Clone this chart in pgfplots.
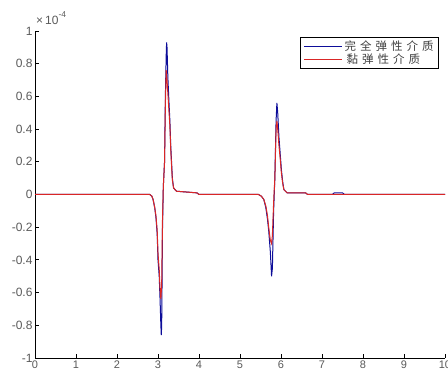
\documentclass[border=0pt]{standalone}
\usepackage{fontspec}
\setmainfont{Liberation Sans}
\newfontfamily\cjk{Noto Sans CJK SC}
\usepackage{pgfplots}
\pgfplotsset{compat=1.18}
\definecolor{mblue}{rgb}{0.05,0.05,0.6}
\definecolor{mred}{rgb}{0.85,0.15,0.15}
\newcommand{\cs}{\hspace{4pt}}
\begin{document}
\begin{tikzpicture}[x=1pt,y=1pt]
\useasboundingbox (0,0) rectangle (448,372);
\begin{axis}[
  at={(35pt,14pt)}, anchor=south west,
  scale only axis, width=410pt, height=327pt,
  xmin=0, xmax=10, ymin=-1, ymax=1,
  axis x line*=bottom, axis y line*=left,
  axis line style={-, black, line width=0.9pt},
  tick align=inside, major tick length=4pt,
  tick style={black, line width=0.8pt},
  xtick={0,1,2,3,4,5,6,7,8,9,10},
  ytick={-1,-0.8,-0.6,-0.4,-0.2,0,0.2,0.4,0.6,0.8,1},
  yticklabels={-1,-0.8,-0.6,-0.4,-0.2,0,0.2,0.4,0.6,0.8,1},
  xticklabels={0,1,2,3,4,5,6,7,8,9,10},
  tick label style={font=\fontsize{12}{13}\selectfont, text=black!65},
  xticklabel style={font=\fontsize{11}{11}\selectfont, inner ysep=1pt, yshift=-1.5pt},
  yticklabel style={xshift=1pt},
  /pgf/number format/assume math mode=true,
  legend style={at={(0.985,0.982)}, anchor=north east, draw=black, line width=0.6pt,
    font=\cjk\fontsize{11.5}{13}\selectfont, inner xsep=3pt, inner ysep=2pt, row sep=-3pt, text=black!75},
  legend cell align=left,
  legend image code/.code={\draw[#1, line width=0.9pt] (0pt,0pt) -- (38pt,0pt);},
  clip=false,
]
\addplot[mblue, line width=1pt] coordinates {
(0,0) (2.80,0) (2.85,-0.01) (2.88,-0.03) (2.92,-0.08) (2.95,-0.14) (2.98,-0.24)
(3.00,-0.40) (3.03,-0.50) (3.05,-0.64) (3.07,-0.80) (3.08,-0.86) (3.09,-0.80)
(3.11,-0.2) (3.13,0.05) (3.16,0.20) (3.18,0.60) (3.20,0.85) (3.21,0.93) (3.22,0.90)
(3.24,0.72) (3.27,0.55) (3.29,0.45) (3.31,0.30) (3.33,0.20) (3.35,0.10) (3.38,0.04)
(3.45,0.02) (3.95,0.01) (4.0,0) (5.45,0) (5.52,-0.01) (5.58,-0.03) (5.63,-0.08)
(5.67,-0.15) (5.70,-0.22) (5.74,-0.35) (5.77,-0.50) (5.79,-0.45) (5.82,-0.1)
(5.85,0.10) (5.88,0.45) (5.90,0.56) (5.92,0.50) (5.95,0.35) (5.98,0.25) (6.01,0.15)
(6.04,0.08) (6.07,0.03) (6.15,0.01) (6.6,0.01) (6.65,0) (7.25,0) (7.3,0.01) (7.5,0.01)
(7.55,0) (10,0)
};
\addlegendentry{完\cs 全\cs 弹\cs 性\cs 介\cs 质}
\addplot[mred, line width=1pt] coordinates {
(0,0) (2.80,0) (2.85,-0.01) (2.88,-0.03) (2.92,-0.08) (2.95,-0.13) (2.98,-0.22)
(3.00,-0.36) (3.03,-0.46) (3.05,-0.58) (3.07,-0.64) (3.09,-0.55) (3.11,-0.15)
(3.13,0.05) (3.16,0.2) (3.18,0.55) (3.20,0.76) (3.22,0.70) (3.24,0.62) (3.27,0.50)
(3.29,0.42) (3.31,0.28) (3.33,0.18) (3.35,0.09) (3.38,0.04) (3.45,0.02) (3.95,0.01)
(4.0,0) (5.45,0) (5.52,-0.01) (5.58,-0.03) (5.63,-0.07) (5.67,-0.13) (5.70,-0.2)
(5.74,-0.28) (5.77,-0.30) (5.79,-0.25) (5.82,-0.05) (5.85,0.10) (5.88,0.40)
(5.90,0.45) (5.92,0.40) (5.95,0.30) (5.98,0.22) (6.01,0.13) (6.04,0.07) (6.07,0.03)
(6.15,0.01) (6.6,0.01) (6.65,0) (10,0)
};
\addlegendentry{\hspace{2pt}黏\cs 弹\cs 性\cs 介\cs 质}
\node[anchor=south west, inner sep=0pt, font=\fontsize{12}{12}\selectfont, text=black!65]
  at ([xshift=1pt,yshift=6pt]rel axis cs:0,1) {×\,10\raisebox{7pt}{\fontsize{8.5}{9}\selectfont -4}};
\end{axis}
\end{tikzpicture}
\end{document}
